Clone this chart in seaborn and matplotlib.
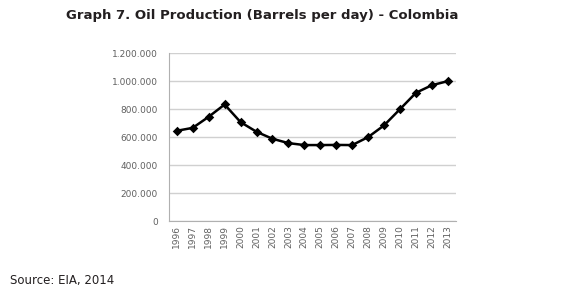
import pandas as pd
import seaborn as sns
import matplotlib.pyplot as plt
from matplotlib.ticker import FuncFormatter

years = [str(y) for y in range(1996, 2014)]
barrels = [645000, 666000, 745000, 833000, 707000, 638000, 588000, 557000, 543000,
           543000, 544000, 543000, 600000, 684000, 800000, 917000, 971000, 1000000]

df = pd.DataFrame({'Year': years, 'Barrels': barrels})

sns.set_style('white')
fig = plt.figure(figsize=(5.8, 2.92), dpi=100)
ax = fig.add_axes([0.291, 0.243, 0.495, 0.575])

sns.pointplot(data=df, x='Year', y='Barrels', color='black', markers='D',
              linewidth=1.8, markersize=3.5, ax=ax)

ax.set_ylim(0, 1200000)
ax.set_yticks(range(0, 1200001, 200000))
ax.yaxis.set_major_formatter(FuncFormatter(lambda v, p: f'{int(v):,}'.replace(',', '.')))
ax.grid(axis='y', color='#d0d0d0', linewidth=1)
ax.set_axisbelow(True)
for s in ['top', 'right']:
    ax.spines[s].set_visible(False)
for s in ['left', 'bottom']:
    ax.spines[s].set_color('#b0b0b0')
    ax.spines[s].set_linewidth(0.8)
ax.tick_params(axis='x', rotation=90, labelsize=6.5, colors='#606060', length=0, pad=3)
ax.tick_params(axis='y', labelsize=6.5, colors='#606060', length=0, pad=8)
ax.set_xlabel('')
ax.set_ylabel('')

fig.text(0.452, 0.948, 'Graph 7. Oil Production (Barrels per day) - Colombia',
         ha='center', va='center', fontsize=9.5, fontweight='bold', color='#231f20')
fig.text(0.017, 0.038, 'Source: EIA, 2014', ha='left', va='center', fontsize=8.5,
         color='#231f20')

fig.savefig('out.png', dpi=100)
